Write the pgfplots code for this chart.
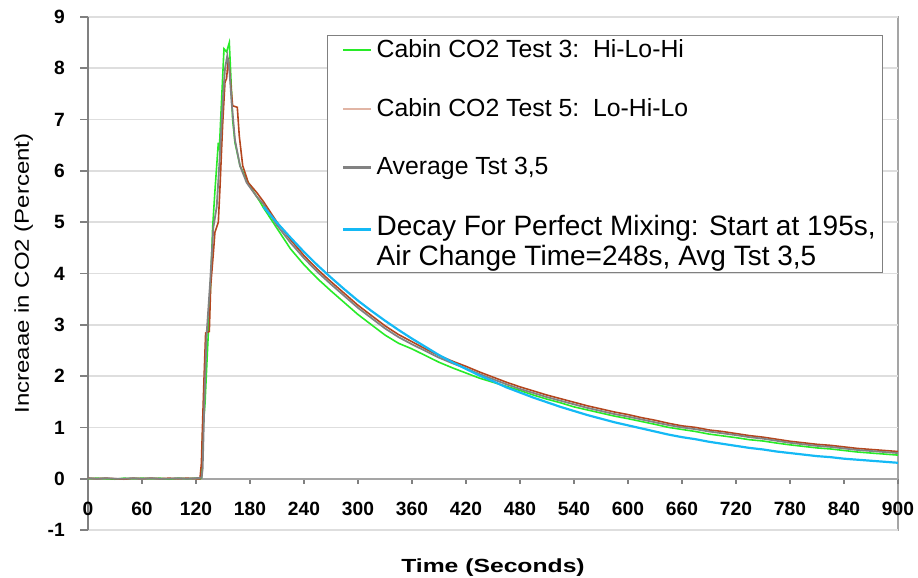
\documentclass[border=0pt]{standalone}
\usepackage{fontspec}
\setmainfont{Liberation Sans}
\usepackage{pgfplots}
\pgfplotsset{compat=1.18}
\definecolor{cgreen}{RGB}{40,235,40}
\definecolor{cbrown}{RGB}{180,70,30}
\definecolor{cgray}{RGB}{130,130,130}
\definecolor{ccyan}{RGB}{20,185,245}
\definecolor{framegray}{RGB}{165,165,165}
\definecolor{gridgray}{RGB}{222,222,222}
\begin{document}
\begin{tikzpicture}
\begin{axis}[
  scale only axis, width=405pt, height=256.5pt,
  xmin=0, xmax=900, ymin=-1, ymax=9,
  axis x line=middle, axis y line=left,
  axis line style={-, draw=framegray, line width=1pt},
  y axis line style={-, draw=gray, line width=1pt},
  axis background/.style={draw=framegray, line width=1pt},
  xtick={0,60,...,900}, ytick={-1,0,...,9},
  hide obscured x ticks=false, hide obscured y ticks=false,
  tick align=outside,
  xtick style={draw=gray, line width=0.8pt, /pgfplots/major tick length=2.4pt},
  ytick style={draw=gray, line width=0.8pt, /pgfplots/major tick length=3.8pt},
  ymajorgrids, grid style={draw=gridgray, line width=0.9pt},
  /pgf/number format/assume math mode=true,
  ticklabel style={font=\fontsize{9.6}{11}\selectfont\bfseries},
  xticklabel style={yshift=-4pt},
  yticklabel style={xshift=-3.8pt},
  xlabel={\scalebox{1.3}[1]{\bfseries Time (Seconds)}},
  xlabel style={at={(axis description cs:0.5,0)}, anchor=north, yshift=-11pt, font=\fontsize{9.5}{11}\selectfont},
  ylabel={\scalebox{1.2}[1]{Increaae in CO2 (Percent)}},
  ylabel style={at={(axis description cs:-0.059,0.5)}, anchor=south, font=\fontsize{10}{12}\selectfont},
  legend style={at={(0.295,0.965)}, anchor=north west, draw=gray, line width=0.5pt, fill=white,
    font=\fontsize{12.4}{14}\selectfont, inner xsep=3.5pt, inner ysep=0pt, row sep=15pt, column sep=2pt,
    nodes={inner xsep=0pt},
    cells={anchor=west, align=left}},
  legend image code/.code={\path[draw=none] (0pt,0pt) -- (4.5pt,0pt); \draw[#1, line width=1.2pt] (4.5pt,0pt) -- (18.5pt,0pt);},
]
\addplot[cgreen, line width=0.8pt] coordinates {
(0,0) (10,0.01) (20,0) (30,-0.01) (40,0.01) (50,0) (60,0.01) (70,0) (80,0.01) (90,-0.01) (100,0.01) (110,0) (120,0.01) (125,0)
(126.3,0.02) (127.4,0.88) (130,1.46) (132.6,2.44) (136.3,3.8) (138.5,4.9) (141,5.6) (144.8,6.55) (145.9,6.4) (147.4,7.0)
(151.1,8.38) (154,8.32) (157,8.5) (158.5,7.93) (160.7,7.0) (163.3,6.55) (168.9,6.1) (176.3,5.83) (183,5.62) (191,5.40)
(195,5.28) (210,4.88) (225,4.48) (240,4.17) (255,3.90) (270,3.66) (285,3.43) (300,3.20) (315,3.00) (330,2.80) (345,2.64)
(360,2.53) (375,2.40) (390,2.27) (405,2.16) (420,2.06) (435,1.96) (450,1.88) (465,1.80) (480,1.72) (495,1.63) (510,1.55)
(525,1.48) (540,1.40) (555,1.34) (570,1.28) (585,1.22) (600,1.17) (615,1.115) (630,1.06) (645,1.00) (660,0.96) (675,0.92)
(690,0.87) (705,0.835) (720,0.80) (735,0.76) (750,0.735) (765,0.695) (780,0.66) (795,0.63) (810,0.60) (825,0.58) (840,0.55)
(855,0.52) (870,0.50) (885,0.48) (900,0.46)
};
\addlegendentry{Cabin CO2 Test 3:\ \ Hi-Lo-Hi}
\addplot[cbrown, line width=0.8pt, legend image post style={draw opacity=0.4}] coordinates {
(0,0.01) (10,0) (20,0.01) (30,0) (40,-0.01) (50,0.01) (60,0) (70,0.01) (80,0) (90,0.01) (100,0) (110,0.01) (120,0)
(124.4,0) (126,0.3) (127.4,1.14) (129,2.0) (130.7,2.84) (134.8,2.87) (136.3,3.75) (139.3,4.4) (141,4.8) (144.8,5.0)
(146.7,5.7) (149.6,6.9) (152.2,7.73) (154,7.8) (155.9,8.2) (157.8,7.86) (160.7,7.27) (165.9,7.24) (168.1,6.68) (171.9,6.1)
(178.1,5.77) (187.4,5.58) (195,5.40) (210,5.00) (225,4.66) (240,4.35) (255,4.08) (270,3.84) (285,3.61) (300,3.38) (315,3.18)
(330,2.98) (345,2.81) (360,2.67) (375,2.53) (390,2.40) (405,2.29) (420,2.19) (435,2.08) (450,1.98) (465,1.88) (480,1.79)
(495,1.71) (510,1.63) (525,1.56) (540,1.49) (555,1.42) (570,1.36) (585,1.30) (600,1.25) (615,1.19) (630,1.14) (645,1.08)
(660,1.03) (675,1.00) (690,0.95) (705,0.92) (720,0.88) (735,0.84) (750,0.81) (765,0.77) (780,0.73) (795,0.70) (810,0.67)
(825,0.65) (840,0.62) (855,0.59) (870,0.57) (885,0.55) (900,0.53)
};
\addlegendentry{Cabin CO2 Test 5:\ \ Lo-Hi-Lo}
\addplot[cgray, line width=0.9pt] coordinates {
(0,0.01) (10,0) (20,0.01) (30,0) (40,0) (50,0.01) (60,0) (70,0.01) (80,0) (90,0) (100,0.01) (110,0) (120,0.01)
(126.3,0.02) (127.4,0.2) (129.3,1.5) (131.9,2.84) (135.6,3.8) (139.3,4.9) (143,5.3) (146.7,6.35) (149.6,7.33) (152.2,7.99)
(154.8,8.25) (157,8.0) (159.6,7.33) (163.3,6.6) (168.9,6.1) (176.3,5.77) (187.4,5.5) (195,5.35) (210,4.94) (225,4.60)
(240,4.30) (255,4.03) (270,3.79) (285,3.56) (300,3.33) (315,3.13) (330,2.93) (345,2.76) (360,2.62) (375,2.49) (390,2.36)
(405,2.25) (420,2.15) (435,2.04) (450,1.94) (465,1.84) (480,1.75) (495,1.67) (510,1.59) (525,1.52) (540,1.45) (555,1.38)
(570,1.32) (585,1.26) (600,1.21) (615,1.155) (630,1.10) (645,1.045) (660,1.00) (675,0.965) (690,0.92) (705,0.885) (720,0.85)
(735,0.81) (750,0.78) (765,0.74) (780,0.70) (795,0.67) (810,0.64) (825,0.62) (840,0.59) (855,0.56) (870,0.54)
(885,0.52) (900,0.50)
};
\addlegendentry{Average Tst 3,5}
\addplot[ccyan, line width=1.1pt, legend image post style={yshift=6.5pt}] coordinates {
(195,5.30) (210,4.99) (225,4.70) (240,4.42) (255,4.16) (270,3.92) (285,3.69) (300,3.47) (315,3.27) (330,3.08) (345,2.90)
(360,2.73) (375,2.57) (390,2.41) (405,2.27) (420,2.14) (435,2.01) (450,1.90) (465,1.78) (480,1.68) (495,1.58) (510,1.49)
(525,1.40) (540,1.32) (555,1.24) (570,1.17) (585,1.10) (600,1.04) (615,0.98) (630,0.92) (645,0.86) (660,0.81) (675,0.77)
(690,0.72) (705,0.68) (720,0.64) (735,0.60) (750,0.57) (765,0.53) (780,0.50) (795,0.47) (810,0.44) (825,0.42) (840,0.39)
(855,0.37) (870,0.35) (885,0.33) (900,0.31)
};
\addlegendentry{\fontsize{14}{16}\selectfont Decay For Perfect Mixing: Start at 195s,\\[1pt]\fontsize{14}{16}\selectfont\raisebox{0pt}[\height][0pt]{Air Change Time=248s, Avg Tst 3,5}}
\end{axis}
\pgfresetboundingbox
\path ([shift={(-44pt,-23.5pt)}]current axis.south west) rectangle ([shift={(10pt,8.5pt)}]current axis.north east);
\end{tikzpicture}
\end{document}
